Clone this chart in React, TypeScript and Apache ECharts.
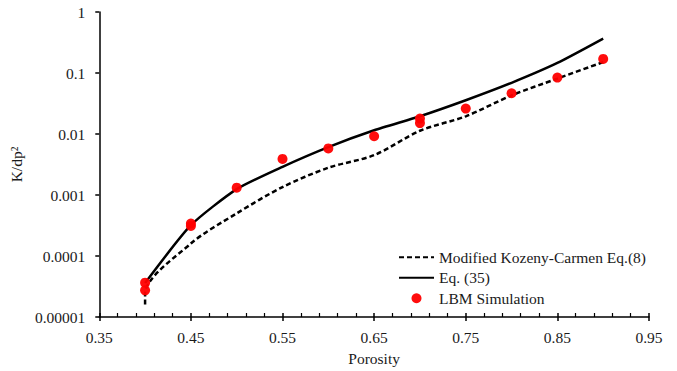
import React, { useEffect, useRef } from "react";
import * as echarts from "echarts";

// Porosity values and permeability (K/dp²) for each curve
const kcPorosity = [0.4, 0.4, 0.45, 0.5, 0.55, 0.6, 0.65, 0.7, 0.75, 0.8, 0.85, 0.9];
const kcValues = [1.6e-5, 2.4e-5, 1.6e-4, 5.0e-4, 1.35e-3, 2.8e-3, 4.5e-3, 0.0113, 0.0195, 0.043, 0.081, 0.151];

const eqPorosity = [0.4, 0.45, 0.5, 0.55, 0.6, 0.65, 0.7, 0.75, 0.8, 0.85, 0.9];
const eqValues = [3.6e-5, 3.2e-4, 1.25e-3, 2.9e-3, 6.1e-3, 0.0115, 0.0195, 0.0357, 0.069, 0.146, 0.366];

const lbmPorosity = [0.4, 0.4, 0.45, 0.45, 0.5, 0.55, 0.6, 0.65, 0.7, 0.7, 0.75, 0.8, 0.85, 0.9];
const lbmValues = [3.66e-5, 2.74e-5, 3.4e-4, 3.1e-4, 1.32e-3, 3.9e-3, 5.8e-3, 9.2e-3, 0.0179, 0.0151, 0.0261, 0.0465, 0.0841, 0.17];

const seriesNames = ["Modified Kozeny-Carmen Eq.(8)", "Eq. (35)", "LBM Simulation"];

const FONT = "'Liberation Serif', 'Times New Roman', serif";
const TEXT = "#1a1a1a";

const pairs = (xs: number[], ys: number[]) => xs.map((x, i) => [x, ys[i]]);

export default function App() {
  const ref = useRef<HTMLDivElement>(null);

  useEffect(() => {
    if (!ref.current) return;
    const chart = echarts.init(ref.current, undefined, { renderer: "svg" });

    const xBase = {
      type: "value" as const,
      min: 0.35,
      max: 0.95,
      interval: 0.1,
      splitLine: { show: false },
    };

    chart.setOption({
      animation: false,
      backgroundColor: "#ffffff",
      textStyle: { fontFamily: FONT },
      grid: { left: 92, right: 28, top: 12, bottom: 54, containLabel: false },
      xAxis: [
        {
          ...xBase,
          name: "Porosity",
          nameLocation: "middle",
          nameGap: 33,
          nameTextStyle: { fontFamily: FONT, fontSize: 15.5, color: TEXT },
          axisLine: { show: true, onZero: false, lineStyle: { color: "#000", width: 1.5 } },
          axisTick: { show: true, length: 4, lineStyle: { color: "#000", width: 1.5 } },
          axisLabel: {
            margin: 12,
            fontFamily: FONT,
            fontSize: 15.5,
            color: TEXT,
            formatter: (v: number) => v.toFixed(2),
          },
        },
        {
          ...xBase,
          position: "bottom",
          axisLine: { show: false },
          axisTick: { show: true, inside: true, length: 4, lineStyle: { color: "#000", width: 1.5 } },
          minorTick: { show: true, splitNumber: 5, length: 4, lineStyle: { color: "#000", width: 1.2 } },
          axisLabel: { show: false },
        },
      ],
      yAxis: {
        type: "log",
        logBase: 10,
        min: 1e-5,
        max: 1,
        name: "K/dp²",
        nameLocation: "middle",
        nameGap: 68,
        nameTextStyle: { fontFamily: FONT, fontSize: 15.5, color: TEXT },
        splitLine: { show: false },
        axisLine: { show: true, lineStyle: { color: "#000", width: 1.5 } },
        axisTick: { show: true, length: 4, lineStyle: { color: "#000", width: 1.5 } },
        axisLabel: {
          margin: 14,
          fontFamily: FONT,
          fontSize: 15.5,
          color: TEXT,
          formatter: (v: number) => {
            if (v >= 1) return "1";
            const d = Math.round(-Math.log10(v));
            return v.toFixed(d);
          },
        },
      },
      legend: {
        orient: "vertical",
        left: 393,
        top: 244,
        itemWidth: 35,
        itemHeight: 10,
        itemGap: 4,
        textStyle: { fontFamily: FONT, fontSize: 15.5, color: TEXT, lineHeight: 16.5 },
        data: [
          { name: seriesNames[0], itemStyle: { opacity: 0 } },
          { name: seriesNames[1], itemStyle: { opacity: 0 } },
          { name: seriesNames[2], icon: "circle" },
        ],
      },
      series: [
        {
          name: seriesNames[0],
          type: "line",
          xAxisIndex: 0,
          data: pairs(kcPorosity, kcValues),
          showSymbol: false,
          symbol: "none",
          smooth: 0.3,
          lineStyle: { color: "#000", width: 2.5, type: [5, 3] },
          itemStyle: { color: "#000" },
          z: 2,
        },
        {
          name: seriesNames[1],
          type: "line",
          xAxisIndex: 0,
          data: pairs(eqPorosity, eqValues),
          showSymbol: false,
          symbol: "none",
          smooth: 0.2,
          lineStyle: { color: "#000", width: 2.5 },
          itemStyle: { color: "#000" },
          z: 2,
        },
        {
          name: seriesNames[2],
          type: "scatter",
          xAxisIndex: 0,
          data: pairs(lbmPorosity, lbmValues),
          symbol: "circle",
          symbolSize: 10,
          itemStyle: { color: "#ff0000", opacity: 0.95 },
          z: 3,
        },
      ],
    });

    return () => chart.dispose();
  }, []);

  return (
    <div
      ref={ref}
      style={{ position: "absolute", left: 0, top: 0, width: 677, height: 371 }}
    />
  );
}
